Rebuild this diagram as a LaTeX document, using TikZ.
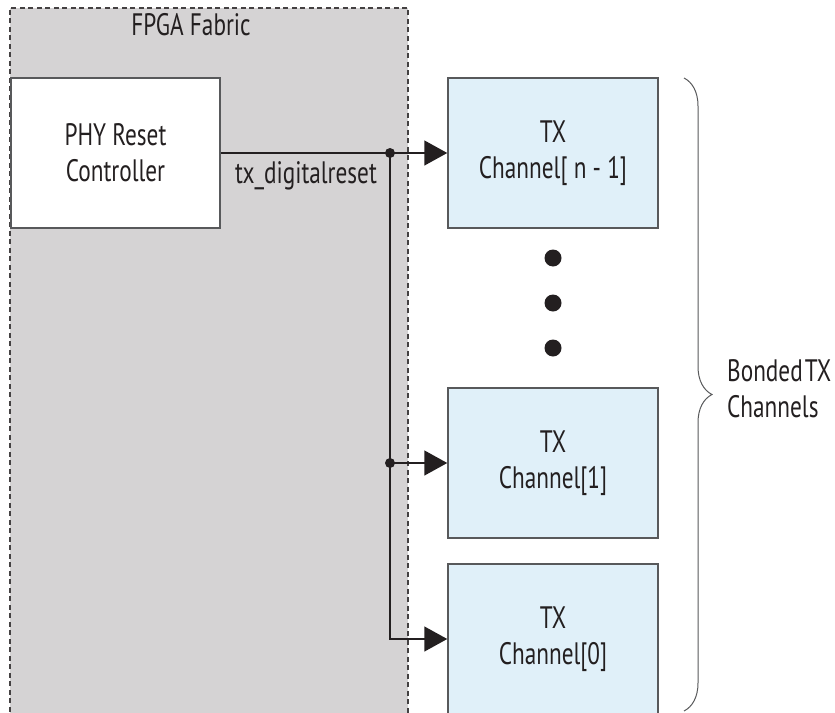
\documentclass[tikz,border=0pt]{standalone}
\usepackage{fontspec}
\setmainfont{PT Sans}[FakeStretch=0.75]
\usepackage{xcolor}
\usetikzlibrary{arrows.meta, positioning, decorations.pathreplacing}

\definecolor{fabricgray}{HTML}{D5D3D4}
\definecolor{chanblue}{HTML}{E0F0F9}
\definecolor{inkdark}{HTML}{231F20}
\definecolor{edgegray}{HTML}{58595B}

\begin{document}
\begin{tikzpicture}[x=1pt, y=-1pt,
    every node/.style={font=\fontsize{31}{36}\selectfont, text=inkdark, align=center},
    fabric/.style={fill=fabricgray, minimum width=398pt, minimum height=712pt, inner sep=0pt},
    ctrlbox/.style={draw=edgegray, line width=1.5pt, fill=white, minimum width=209pt, minimum height=150pt, inner sep=0pt},
    chanbox/.style={draw=edgegray, line width=1.5pt, fill=chanblue, minimum width=210pt, minimum height=150pt, inner sep=0pt},
    sig/.style={draw=inkdark, line width=1.5pt},
    sigarrow/.style={sig, -{Triangle[length=23pt, width=25pt]}},
    plain/.style={inner sep=0pt}]
    \useasboundingbox (0,0) rectangle (835,712);
    % fabric region, open at the bottom
    \node[fabric] (fabric) at (209,364) {};
    \draw[inkdark!85, line width=2.4pt, dash pattern=on 5pt off 3.5pt]
      (fabric.south west) |- (fabric.north) -| (fabric.south east);
    \node[plain, anchor=base] (fabtitle) at (191,35) {FPGA Fabric};
    \node[ctrlbox] (phy) at (115.5,153) {PHY Reset\\Controller};
    % transceiver channels
    \node[chanbox] (chtop) at (553,153) {TX\\Channel[ n - 1]};
    \node[chanbox] (ch1) at (553,463) {TX\\Channel[1]};
    \node[chanbox] (ch0) at (553,639) {TX\\Channel[0]};
    \foreach \y in {258,303,348}
      \fill[inkdark] (553,\y) circle (8.5pt);
    % reset fan-out
    \coordinate (split) at (390,153);
    \draw[sigarrow] (phy.east) -- (chtop.west);
    \draw[sigarrow] (split) |- (ch1.west);
    \draw[sigarrow] (split) |- (ch0.west);
    \fill[inkdark] (split) circle (5pt);
    \fill[inkdark] (split |- ch1.west) circle (5pt);
    \node[plain, anchor=base] (rstlbl) at (306,183) {tx\_digitalreset};
    % bonded group
    \draw[edgegray, line width=1pt, decorate, decoration={brace, amplitude=28pt}]
      (684,78) -- (684,711);
    \node[plain, anchor=west, align=left] (bondlbl) at (727,389) {Bonded\hspace{2pt}TX\\Channels};
\end{tikzpicture}
\end{document}
